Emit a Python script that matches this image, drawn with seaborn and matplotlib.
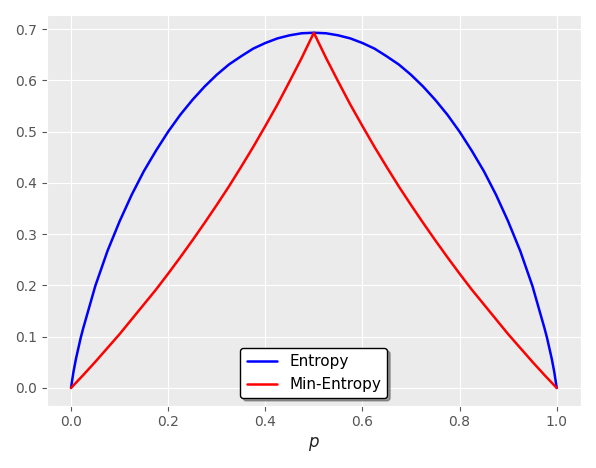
import numpy as np
import pandas as pd
import matplotlib
matplotlib.use("Agg")
import matplotlib.pyplot as plt
import seaborn as sns

# values (left half, 0 .. 0.5)
p_left = [0.0, 0.005, 0.01, 0.02, 0.025, 0.05, 0.075, 0.1, 0.125, 0.15, 0.175, 0.2, 0.225,
          0.25, 0.275, 0.3, 0.325, 0.35, 0.375, 0.4, 0.425, 0.45, 0.475, 0.5]
entropy_left = [0.0, 0.031, 0.056, 0.098, 0.116, 0.199, 0.267, 0.325, 0.377, 0.423, 0.463,
                0.500, 0.533, 0.562, 0.588, 0.611, 0.631, 0.647, 0.662, 0.673, 0.682,
                0.688, 0.692, 0.693]
min_entropy_left = [0.0, 0.005, 0.010, 0.020, 0.025, 0.051, 0.078, 0.105, 0.134, 0.163, 0.192,
                    0.223, 0.255, 0.288, 0.322, 0.357, 0.393, 0.431, 0.470, 0.511, 0.553,
                    0.598, 0.644, 0.693]

# the chart is symmetric around p = 0.5
p_vals = p_left + [round(1 - v, 3) for v in p_left[-2::-1]]
entropy = entropy_left + entropy_left[-2::-1]
min_entropy = min_entropy_left + min_entropy_left[-2::-1]

df = pd.DataFrame({"p": p_vals, "Entropy": entropy, "Min-Entropy": min_entropy})

sns.set_style("darkgrid", {"axes.facecolor": "#EBEBEB", "grid.color": "white",
                           "xtick.bottom": True, "ytick.left": True})
fig, ax = plt.subplots(figsize=(5.96, 4.68), dpi=100)

sns.lineplot(data=df, x="p", y="Entropy", color="blue", lw=1.8, label="Entropy",
             sort=False, ax=ax)
sns.lineplot(data=df, x="p", y="Min-Entropy", color="red", lw=1.8, label="Min-Entropy",
             sort=False, ax=ax)

ax.set_xlabel("$p$", fontsize=12)
ax.set_ylabel("")
ax.set_xticks(np.arange(0, 1.01, 0.2))
ax.set_yticks(np.arange(0, 0.71, 0.1))
ax.tick_params(colors="#555555", labelsize=10)
leg = ax.legend(loc="lower center", frameon=True, shadow=True, fancybox=True,
                edgecolor="black", facecolor="white", framealpha=1, fontsize=11)
for t in leg.get_texts():
    t.set_color("black")

plt.tight_layout()
plt.savefig("out.png", dpi=100)
